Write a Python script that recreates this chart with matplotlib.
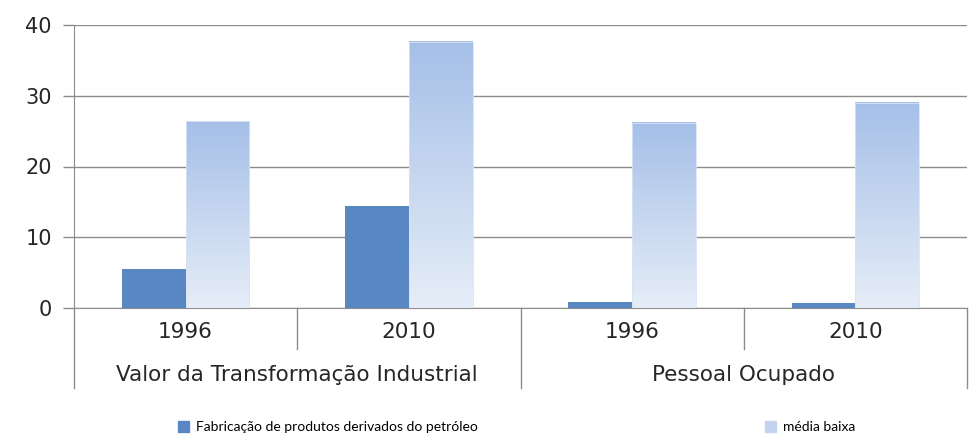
import matplotlib
matplotlib.use("Agg")
import matplotlib.pyplot as plt
import matplotlib.transforms as mtransforms
import numpy as np

# dados
anos = ["1996", "2010", "1996", "2010"]
grupos = ["Valor da Transformação Industrial", "Pessoal Ocupado"]
serie_nomes = ["Fabricação de produtos derivados do petróleo", "média baixa"]
fabricacao = [5.5, 14.4, 0.9, 0.7]
media_baixa = [26.4, 37.6, 26.2, 29.0]

cor_escura = "#5887C3"
cor_topo = np.array([0.65, 0.75, 0.91])
cor_base = np.array([0.90, 0.93, 0.97])
cinza = "#8C8C8C"
cor_txt = "#262626"

fig = plt.figure(figsize=(9.76, 4.38), dpi=100)
ax = fig.add_axes([74 / 976, 1 - 308 / 438, (967 - 74) / 976, 283 / 438])

x = np.arange(len(anos))
w = 0.285
b1 = ax.bar(x - w / 2, fabricacao, w, color=cor_escura, zorder=3)
b2 = ax.bar(x + w / 2, media_baixa, w, color="none", edgecolor="#D9E3F3",
            linewidth=0.6, zorder=4)

# gradiente vertical nas barras claras
grad = np.linspace(0, 1, 256)[:, None]
img = cor_base[None, None, :] * (1 - grad[:, :, None]) + cor_topo[None, None, :] * grad[:, :, None]
for r in b2:
    x0, y0 = r.get_x(), r.get_y()
    ax.imshow(img, extent=(x0, x0 + r.get_width(), y0, y0 + r.get_height()),
              origin="lower", aspect="auto", zorder=3, interpolation="bilinear")

ax.set_xlim(-0.5, 3.5)
ax.set_ylim(0, 40)
ax.set_yticks([0, 10, 20, 30, 40])
ax.yaxis.grid(True, color=cinza, linewidth=1.0, zorder=0)
ax.set_axisbelow(True)
ax.tick_params(axis="y", length=8, width=1, color=cinza, labelsize=15,
               labelcolor=cor_txt, pad=8)
ax.set_xticks([])
for s in ["top", "right"]:
    ax.spines[s].set_visible(False)
ax.spines["left"].set_color(cinza)
ax.spines["bottom"].set_color(cinza)

# eixo categórico em dois níveis
trans = mtransforms.blended_transform_factory(ax.transData, ax.transAxes)
for i, a in enumerate(anos):
    ax.text(i, -0.085, a, transform=trans, ha="center", va="center",
            fontsize=15.5, color=cor_txt)
for j, g in enumerate(grupos):
    ax.text(2 * j + 0.5, -0.237, g, transform=trans, ha="center", va="center",
            fontsize=15.5, color=cor_txt)
for xv in [0.5, 2.5]:
    ax.plot([xv, xv], [0, -0.145], transform=trans, color=cinza, lw=1, clip_on=False)
for xv in [-0.5, 1.5, 3.5]:
    ax.plot([xv, xv], [0, -0.283], transform=trans, color=cinza, lw=1, clip_on=False)

# legenda (duas entradas afastadas)
h1 = plt.Rectangle((0, 0), 1, 1, color=cor_escura)
h2 = plt.Rectangle((0, 0), 1, 1, color="#C3D2EE")
for h, nome, xl in [(h1, serie_nomes[0], 178), (h2, serie_nomes[1], 765)]:
    fig.legend([h], [nome], loc="center left", bbox_to_anchor=(xl / 976, 1 - 427 / 438),
               frameon=False, handlelength=0.8, handleheight=0.8,
               handletextpad=0.5, borderpad=0, borderaxespad=0,
               prop={"family": ["Lato", "DejaVu Sans"], "size": 10})

fig.savefig("out.png", dpi=100)
